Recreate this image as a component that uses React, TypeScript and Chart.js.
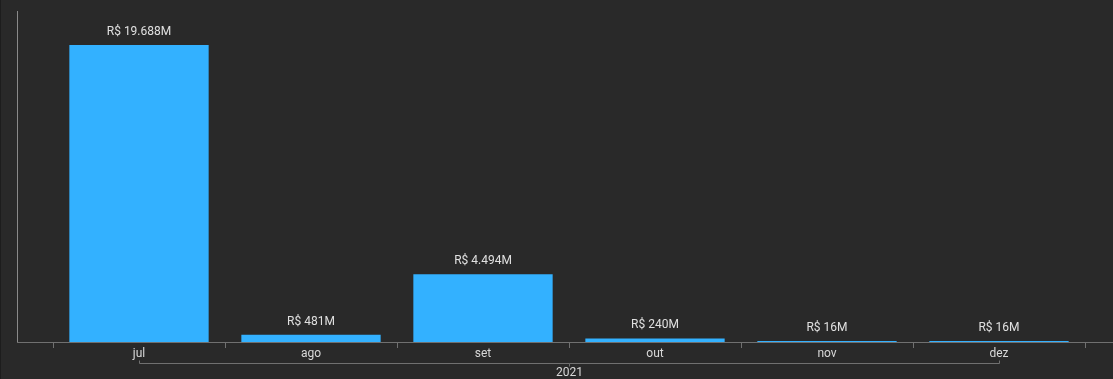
import React, { useEffect, useRef } from "react";
import { Chart, registerables } from "chart.js";

Chart.register(...registerables);

const months = ["jul", "ago", "set", "out", "nov", "dez"];
const values = [19.688, 0.481, 4.494, 0.24, 0.016, 0.016];
const valueLabels = ["R$ 19.688M", "R$ 481M", "R$ 4.494M", "R$ 240M", "R$ 16M", "R$ 16M"];
const yearLabel = "2021";

const FONT = "Roboto, 'Noto Sans', sans-serif";

const decor = {
  id: "decor",
  beforeDraw(chart: any) {
    const { ctx, width, height } = chart;
    ctx.save();
    ctx.fillStyle = "#292929";
    ctx.fillRect(0, 0, width, height);
    ctx.fillStyle = "#1d1d1d";
    ctx.fillRect(0, 0, 1, height);
    ctx.restore();
  },
  afterDatasetsDraw(chart: any) {
    const { ctx, chartArea, width } = chart;
    const x = chart.scales.x;
    const meta = chart.getDatasetMeta(0);
    const bottom = chartArea.bottom;
    const axisLeft = 17;
    ctx.save();
    // left axis
    ctx.strokeStyle = "#8a8a8a";
    ctx.lineWidth = 1;
    ctx.beginPath();
    ctx.moveTo(axisLeft + 0.5, chartArea.top);
    ctx.lineTo(axisLeft + 0.5, bottom + 0.5);
    ctx.stroke();
    // bottom axis
    ctx.strokeStyle = "#707070";
    ctx.beginPath();
    ctx.moveTo(axisLeft, bottom + 0.5);
    ctx.lineTo(width, bottom + 0.5);
    ctx.stroke();
    // ticks at boundaries
    const step = x.getPixelForValue(1) - x.getPixelForValue(0);
    for (let i = 0; i <= months.length; i++) {
      const px = Math.round(x.getPixelForValue(0) - step / 2 + i * step) + 0.5;
      ctx.beginPath();
      ctx.moveTo(px, bottom);
      ctx.lineTo(px, bottom + 6);
      ctx.stroke();
    }
    // month labels
    ctx.fillStyle = "#d8d8d8";
    ctx.font = `12px ${FONT}`;
    ctx.textAlign = "center";
    ctx.textBaseline = "middle";
    months.forEach((m, i) => {
      ctx.fillText(m, x.getPixelForValue(i), bottom + 12);
    });
    // year bracket
    const x0 = Math.round(x.getPixelForValue(0)) + 0.5;
    const x5 = Math.round(x.getPixelForValue(months.length - 1)) + 0.5;
    const mid = Math.round((x.left + x.right) / 2) + 0.5;
    const by = bottom + 21.5;
    ctx.strokeStyle = "#707070";
    ctx.beginPath();
    ctx.moveTo(x0, by - 3);
    ctx.lineTo(x0, by);
    ctx.lineTo(x5, by);
    ctx.lineTo(x5, by - 3);
    ctx.moveTo(mid, by);
    ctx.lineTo(mid, by + 3);
    ctx.stroke();
    ctx.fillStyle = "#d8d8d8";
    ctx.fillText(yearLabel, mid, bottom + 31);
    // value labels
    ctx.fillStyle = "#e0e0e0";
    meta.data.forEach((bar: any, i: number) => {
      ctx.fillText(valueLabels[i], bar.x, bar.y - 13);
    });
    ctx.restore();
  },
};

export default function App() {
  const ref = useRef<HTMLCanvasElement>(null);
  useEffect(() => {
    const chart = new Chart(ref.current!, {
      type: "bar",
      data: {
        labels: months,
        datasets: [
          {
            data: values,
            backgroundColor: "#33b1ff",
            barPercentage: 0.81,
            categoryPercentage: 1,
            minBarLength: 1,
          },
        ],
      },
      options: {
        animation: false,
        responsive: false,
        devicePixelRatio: 1,
        layout: { padding: { left: 53, right: 28, top: 11, bottom: 37 } },
        plugins: { legend: { display: false }, tooltip: { enabled: false } },
        scales: {
          x: { display: false, offset: true },
          y: { display: false, min: 0, max: 21.94 },
        },
      },
      plugins: [decor],
    });
    return () => chart.destroy();
  }, []);
  return (
    <div style={{ position: "fixed", left: 0, top: 0, width: 1113, height: 379, background: "#292929" }}>
      <canvas ref={ref} width={1113} height={379} style={{ display: "block" }} />
    </div>
  );
}
